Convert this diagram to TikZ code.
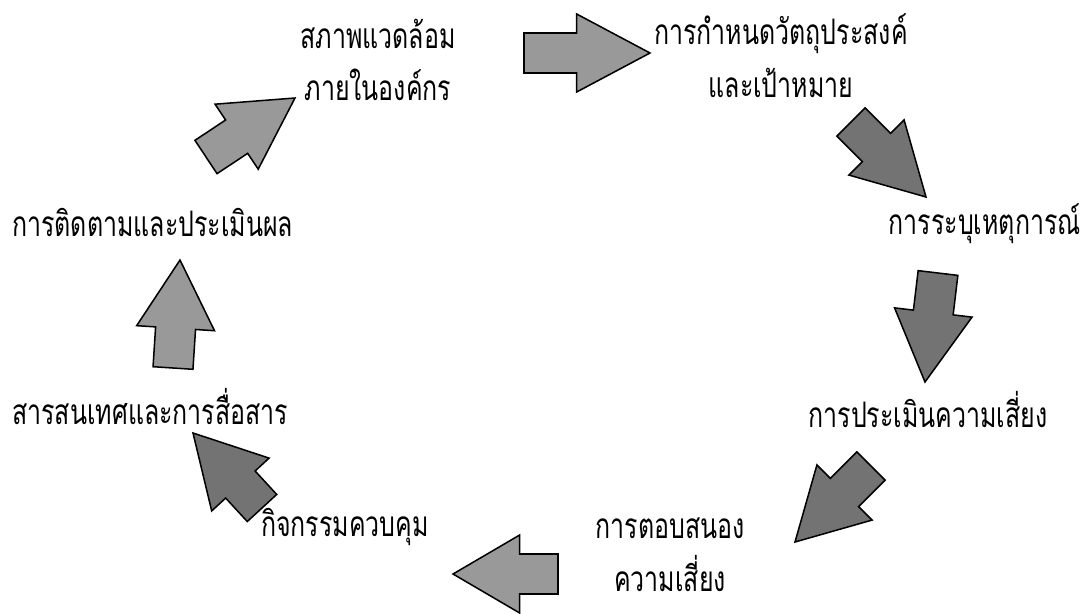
\documentclass[tikz,border=0pt]{standalone}
\usepackage{fontspec}
\newfontfamily\thaifont[Script=Thai,FakeStretch=0.71]{Loma}
\usetikzlibrary{calc}
\tikzset{
  lbl/.style={font=\thaifont\fontsize{30}{45}\selectfont, inner sep=0pt, align=center},
  arrlight/.style={fill=black!40, draw=black, line width=1.3pt, line join=miter},
  arrdark/.style={fill=black!55, draw=black, line width=1.3pt, line join=miter},
}
% #1 style, #2 tail coordinate, #3 tip coordinate, #4 head length
\newcommand{\blockarrow}[4]{%
  \coordinate (bB) at ($(#3)!#4!(#2)$);
  \draw[#1] ($(#2)!0.6cm!90:(#3)$) -- ($(bB)!0.6cm!90:(#3)$) -- ($(bB)!1.17cm!90:(#3)$)
    -- (#3) -- ($(bB)!1.17cm!-90:(#3)$) -- ($(bB)!0.6cm!-90:(#3)$) -- ($(#2)!0.6cm!-90:(#3)$) -- cycle;
}
\begin{document}
\begin{tikzpicture}[x=0.03cm,y=-0.03cm]
\useasboundingbox (0,0) rectangle (1083,614);
% labels
\node[lbl] (env) at (378,60) {สภาพแวดล้อม\\ภายในองค์กร};
\node[lbl] (obj) at (781,56) {การกำหนดวัตถุประสงค์\\และเป้าหมาย};
\node[lbl, anchor=east] (event) at (1081,224) {การระบุเหตุการณ์};
\node[lbl] (assess) at (928,410) {การประเมินความเสี่ยง};
\node[lbl] (resp) at (670,555) {การตอบสนอง\\ความเสี่ยง};
\node[lbl] (ctrl) at (345,527) {กิจกรรมควบคุม};
\node[lbl, anchor=west] (info) at (12,407) {สารสนเทศและการสื่อสาร};
\node[lbl, anchor=west] (mon) at (12,222) {การติดตามและประเมินผล};
% arrow end points
\coordinate (a1t) at (524,53);  \coordinate (a1p) at (650,53);
\coordinate (a2t) at (851,122); \coordinate (a2p) at (926,197);
\coordinate (a3t) at (938,273); \coordinate (a3p) at (925,382);
\coordinate (a4t) at (871,466); \coordinate (a4p) at (795,542);
\coordinate (a5t) at (558,574); \coordinate (a5p) at (453,574);
\coordinate (a6t) at (262,508); \coordinate (a6p) at (193,433);
\coordinate (a7t) at (173,368); \coordinate (a7p) at (180,260);
\coordinate (a8t) at (206,157); \coordinate (a8p) at (295,98);
\blockarrow{arrlight}{a1t}{a1p}{2.2cm}
\blockarrow{arrdark}{a2t}{a2p}{2.1cm}
\blockarrow{arrdark}{a3t}{a3p}{2.1cm}
\blockarrow{arrdark}{a4t}{a4p}{2.1cm}
\blockarrow{arrlight}{a5t}{a5p}{2.0cm}
\blockarrow{arrdark}{a6t}{a6p}{2.1cm}
\blockarrow{arrlight}{a7t}{a7p}{2.05cm}
\blockarrow{arrlight}{a8t}{a8p}{2.1cm}
\end{tikzpicture}
\end{document}
